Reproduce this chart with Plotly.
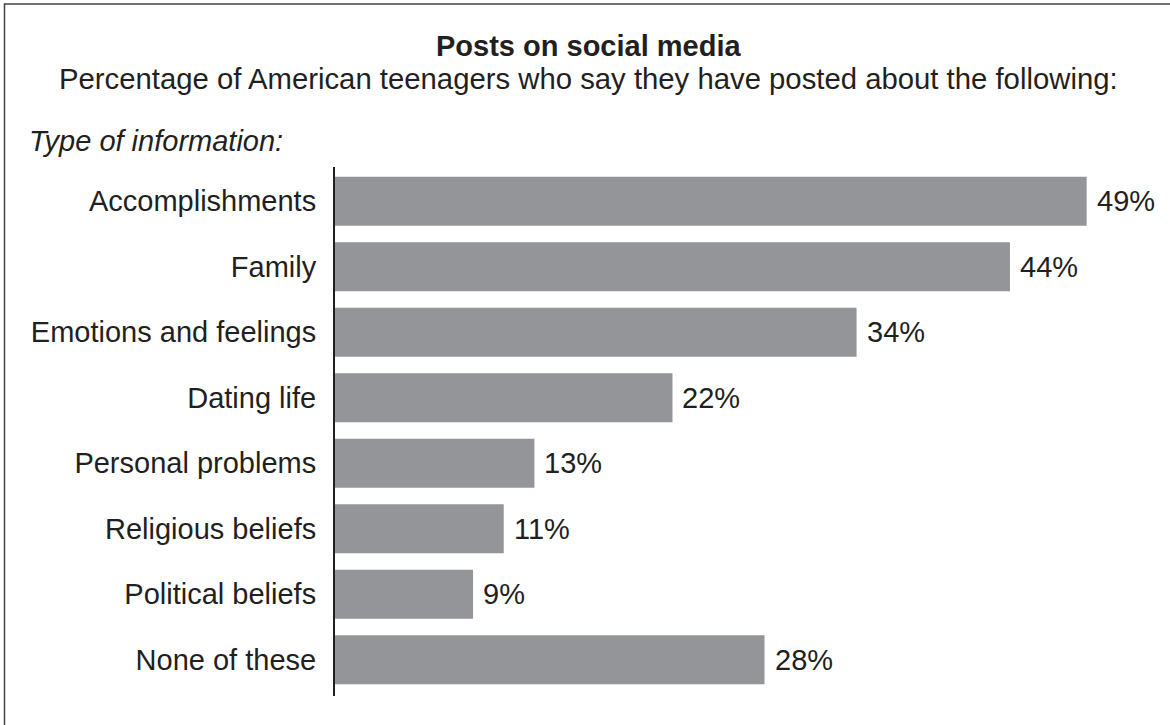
import plotly.graph_objects as go

# Survey data: share of American teenagers who have posted about each topic
categories = [
    "Accomplishments",
    "Family",
    "Emotions and feelings",
    "Dating life",
    "Personal problems",
    "Religious beliefs",
    "Political beliefs",
    "None of these",
]
percent = [49, 44, 34, 22, 13, 11, 9, 28]

title_text = "Posts on social media"
subtitle_text = "Percentage of American teenagers who say they have posted about the following:"
axis_caption = "Type of information:"

# Canvas geometry (pixels)
W, H = 1170, 725
ML, MR, MT, MB = 335, 20, 167, 29
PW, PH = W - ML - MR, H - MT - MB
PX_PER_PCT = 15.34
ROW_PX = 65.5

INK = "#231f20"
BAR = "#939598"
FONT = "Arial, 'Liberation Sans', Helvetica, sans-serif"
FS = 29


def px_x(px):
    return (px - ML) / PW


def px_y(py):
    return (H - MB - py) / PH


fig = go.Figure(
    go.Bar(
        x=percent,
        y=categories,
        orientation="h",
        marker=dict(color=BAR, line=dict(width=0)),
        width=0.748,
        hoverinfo="skip",
    )
)

# Value labels just past the end of each bar
annotations = [
    dict(
        x=v, y=c, xref="x", yref="y", text=f"{v}%", showarrow=False,
        xanchor="left", yanchor="middle", xshift=8,
        font=dict(family=FONT, size=FS, color=INK),
    )
    for c, v in zip(categories, percent)
]

annotations += [
    dict(x=px_x(588.5), y=px_y(46), xref="paper", yref="paper", text=f"<b>{title_text}</b>",
         showarrow=False, xanchor="center", yanchor="middle",
         font=dict(family=FONT, size=FS, color=INK)),
    dict(x=px_x(588.5), y=px_y(79), xref="paper", yref="paper", text=subtitle_text,
         showarrow=False, xanchor="center", yanchor="middle",
         font=dict(family=FONT, size=29.3, color=INK)),
    dict(x=px_x(27), y=px_y(141), xref="paper", yref="paper", text=f"<i>{axis_caption}</i>",
         showarrow=False, xanchor="left", yanchor="middle",
         font=dict(family=FONT, size=FS, color=INK)),
]

first_offset = (201.2 - MT) / ROW_PX
span = PH / ROW_PX

fig.update_layout(
    width=W,
    height=H,
    margin=dict(l=ML, r=MR, t=MT, b=MB, pad=0),
    paper_bgcolor="white",
    plot_bgcolor="white",
    showlegend=False,
    font=dict(family=FONT, size=FS, color=INK),
    xaxis=dict(
        range=[0, PW / PX_PER_PCT],
        visible=False,
        fixedrange=True,
    ),
    yaxis=dict(
        range=[span - first_offset, -first_offset],
        showline=True,
        linecolor=INK,
        linewidth=2,
        showgrid=False,
        zeroline=False,
        ticks="",
        ticklabelstandoff=11,
        tickfont=dict(family=FONT, size=FS, color=INK),
        fixedrange=True,
    ),
    annotations=annotations,
    shapes=[
        # frame around the graphic (right/bottom edges sit past the canvas)
        dict(type="rect", xref="paper", yref="paper",
             x0=px_x(4.5), x1=px_x(W + 5), y0=px_y(H + 5), y1=px_y(4),
             line=dict(color="#444444", width=1.5), fillcolor="rgba(0,0,0,0)",
             layer="below"),
    ],
)

fig.write_html("out.html", config={"displayModeBar": False})
